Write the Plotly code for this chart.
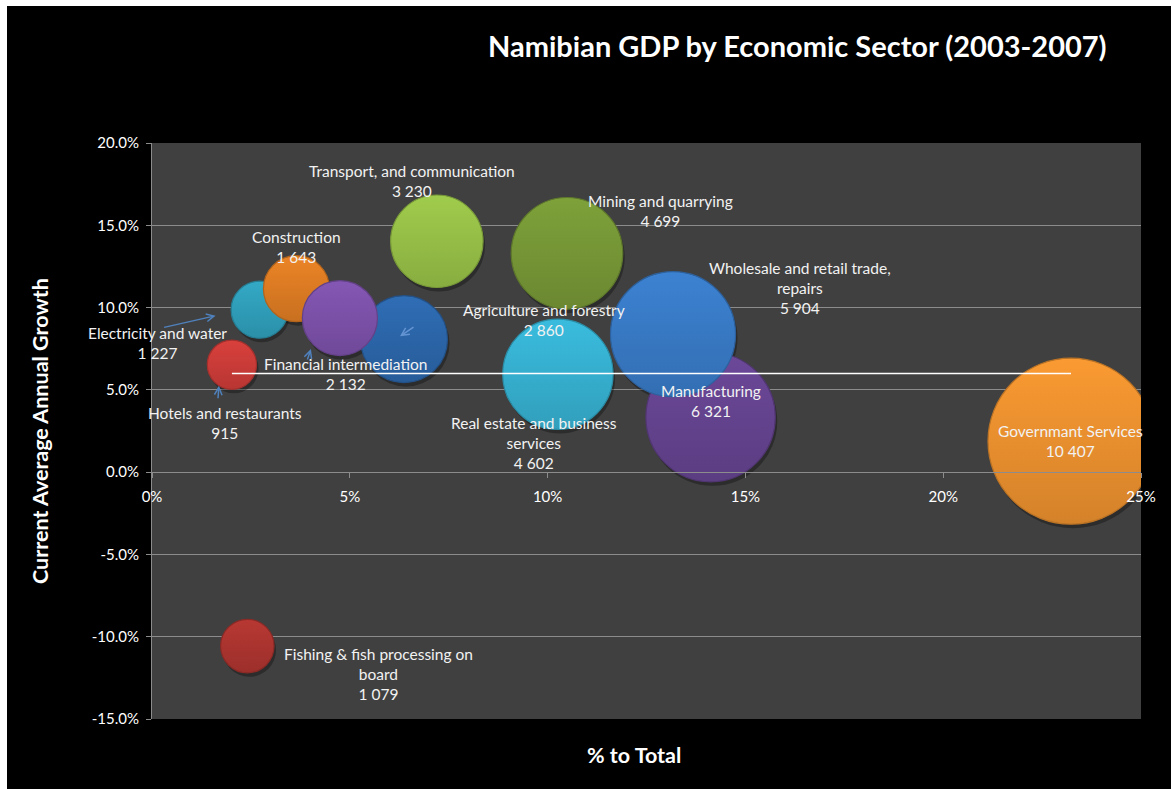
import plotly.graph_objects as go

# ---- data -------------------------------------------------------------
sectors = [
    "Electricity and water", "Construction", "Agriculture and forestry",
    "Financial intermediation", "Hotels and restaurants",
    "Fishing & fish processing on board", "Transport, and communication",
    "Mining and quarrying", "Real estate and business services",
    "Manufacturing", "Wholesale and retail trade, repairs", "Governmant Services",
]
# sector GDP, N$ million (bubble size)
gdp_value = [1227, 1643, 2860, 2132, 915, 1079, 3230, 4699, 4602, 6321, 5904, 10407]
# share of total GDP, %
share_pct = [2.72, 3.65, 6.37, 4.75, 2.02, 2.41, 7.20, 10.49, 10.26, 14.12, 13.17, 23.23]
# current average annual growth, %
growth_pct = [9.87, 11.15, 8.08, 9.36, 6.53, -10.57, 14.03, 13.30, 5.95, 3.34, 8.38, 1.88]

# average growth reference line
avg_line_x = [2.02, 23.23]
avg_line_y = [6.0, 6.0]

x_ticks = [0, 5, 10, 15, 20, 25]
x_tick_labels = ["0%", "5%", "10%", "15%", "20%", "25%"]
y_ticks = [-15, -10, -5, 0, 5, 10, 15, 20]
y_tick_labels = ["-15.0%", "-10.0%", "-5.0%", "0.0%", "5.0%", "10.0%", "15.0%", "20.0%"]

# ---- styling ----------------------------------------------------------
W, H = 1171, 789
PL, PR, PT, PB = 152, 1141, 143, 719
X_RANGE = [0, 25]
Y_RANGE = [-15, 20]

FONT = "Lato, 'Open Sans', sans-serif"
GRID = "#8c8c8c"
PLOT_BG = "#404040"

colors = {
    "Electricity and water": "#33A9C6",
    "Construction": "#EC8426",
    "Agriculture and forestry": "#2F6DB5",
    "Financial intermediation": "#8457B4",
    "Hotels and restaurants": "#D9403C",
    "Fishing & fish processing on board": "#B83833",
    "Transport, and communication": "#A0CC4C",
    "Mining and quarrying": "#7EA13A",
    "Real estate and business services": "#3ABCDE",
    "Manufacturing": "#6C4899",
    "Wholesale and retail trade, repairs": "#3C82D2",
    "Governmant Services": "#FA9A32",
}

label_text = {
    "Electricity and water": "Electricity and water",
    "Construction": "Construction",
    "Agriculture and forestry": "Agriculture and forestry",
    "Financial intermediation": "Financial intermediation",
    "Hotels and restaurants": "Hotels and restaurants",
    "Fishing & fish processing on board": "Fishing & fish processing on<br>board",
    "Transport, and communication": "Transport, and communication",
    "Mining and quarrying": "Mining and quarrying",
    "Real estate and business services": "Real estate and business<br>services",
    "Manufacturing": "Manufacturing",
    "Wholesale and retail trade, repairs": "Wholesale and retail trade,<br>repairs",
    "Governmant Services": "Governmant Services",
}

# label offset from bubble centre, in pixels (x right, y up)
label_shift = {
    "Electricity and water": (-102, -33),
    "Construction": (0, 42),
    "Agriculture and forestry": (140, 19),
    "Financial intermediation": (6, -56),
    "Hotels and restaurants": (-7, -58),
    "Fishing & fish processing on board": (131, -28),
    "Transport, and communication": (-25, 60),
    "Mining and quarrying": (94, 42),
    "Real estate and business services": (-24, -69),
    "Manufacturing": (0, 16),
    "Wholesale and retail trade, repairs": (127, 46),
    "Governmant Services": (0, 0),
}

# leader arrows: sector, head shift (px), tail offset from head (px), colour
arrows = [
    ("Electricity and water", -44, -6, -53, 12, "#4F81BD"),
    ("Hotels and restaurants", -13, -21, -1, 14, "#4F81BD"),
    ("Financial intermediation", -29, -31, -4, 12, "#4F81BD"),
    ("Agriculture and forestry", -4, 3, 15, -10, "rgba(120,165,225,0.75)"),
]


def darken(hex_color, f):
    h = hex_color.lstrip("#")
    r, g, b = (int(h[i:i + 2], 16) for i in (0, 2, 4))
    return "#%02x%02x%02x" % (int(r * f), int(g * f), int(b * f))


def fmt_value(v):
    return f"{v:,}".replace(",", " ")


def px_x(px):
    return (px - PL) / (PR - PL)


def px_y(py):
    return (PB - py) / (PB - PT)


MAX_DIAM = 166
sizeref = 2 * max(gdp_value) / MAX_DIAM ** 2

units_per_px_x = (X_RANGE[1] - X_RANGE[0]) / (PR - PL)
units_per_px_y = (Y_RANGE[1] - Y_RANGE[0]) / (PB - PT)

fig = go.Figure()

# soft drop shadow under the bubbles
fig.add_trace(go.Scatter(
    x=[v + 2 * units_per_px_x for v in share_pct],
    y=[v - 4 * units_per_px_y for v in growth_pct],
    mode="markers",
    marker=dict(size=gdp_value, sizemode="area", sizeref=sizeref,
                color="rgba(0,0,0,0.45)", line=dict(width=0)),
    hoverinfo="skip", showlegend=False,
))

bubble_colors = [colors[s] for s in sectors]
fig.add_trace(go.Scatter(
    x=share_pct, y=growth_pct,
    mode="markers",
    marker=dict(
        size=gdp_value, sizemode="area", sizeref=sizeref,
        color=bubble_colors,
        gradient=dict(type="vertical", color=[darken(c, 0.85) for c in bubble_colors]),
        line=dict(width=1.2, color=[darken(c, 0.75) for c in bubble_colors]),
        opacity=1,
    ),
    text=sectors, customdata=gdp_value,
    hovertemplate="%{text}<br>%{customdata}<extra></extra>",
    showlegend=False,
))

fig.add_trace(go.Scatter(
    x=avg_line_x, y=avg_line_y, mode="lines",
    line=dict(color="white", width=1.5),
    hoverinfo="skip", showlegend=False,
))

annotations = []
for s, xv, yv, v in zip(sectors, share_pct, growth_pct, gdp_value):
    dx, dy = label_shift[s]
    annotations.append(dict(
        x=xv, y=yv, xref="x", yref="y", xshift=dx, yshift=dy,
        text=label_text[s] + "<br>" + fmt_value(v),
        showarrow=False, xanchor="center", yanchor="middle", align="center",
        font=dict(family=FONT, size=15.5, color="#f2f2f2"),
    ))

idx = {s: i for i, s in enumerate(sectors)}
for s, hx, hy, ax, ay, col in arrows:
    i = idx[s]
    annotations.append(dict(
        x=share_pct[i], y=growth_pct[i], xref="x", yref="y",
        xshift=hx, yshift=hy, ax=ax, ay=ay, text="",
        showarrow=True, arrowhead=5, arrowsize=1, arrowwidth=1.5,
        arrowcolor=col, standoff=0,
    ))

# chart title and axis titles
annotations += [
    dict(x=px_x(797), y=px_y(45), xref="paper", yref="paper",
         text="<b>Namibian GDP by Economic Sector (2003-2007)</b>",
         showarrow=False, xanchor="center", yanchor="middle",
         font=dict(family=FONT, size=29, color="white")),
    dict(x=px_x(40), y=0.5, xref="paper", yref="paper",
         text="<b>Current Average Annual Growth</b>", textangle=-90,
         showarrow=False, xanchor="center", yanchor="middle",
         font=dict(family=FONT, size=21.5, color="white")),
    dict(x=px_x(634), y=px_y(755), xref="paper", yref="paper",
         text="<b>% to Total</b>",
         showarrow=False, xanchor="center", yanchor="middle",
         font=dict(family=FONT, size=21.5, color="white")),
]

# thin white frame along the top and left edges of the image
shapes = [
    dict(type="rect", xref="paper", yref="paper", layer="above",
         x0=px_x(0), x1=px_x(W), y0=px_y(0), y1=px_y(6),
         fillcolor="white", line=dict(width=0)),
    dict(type="rect", xref="paper", yref="paper", layer="above",
         x0=px_x(0), x1=px_x(7), y0=px_y(0), y1=px_y(H),
         fillcolor="white", line=dict(width=0)),
]

fig.update_layout(
    width=W, height=H,
    margin=dict(l=PL, r=W - PR, t=PT, b=H - PB, pad=0),
    paper_bgcolor="black", plot_bgcolor=PLOT_BG,
    font=dict(family=FONT, color="white"),
    annotations=annotations, shapes=shapes,
    xaxis=dict(
        range=X_RANGE, tickvals=x_ticks, ticktext=x_tick_labels,
        showgrid=False, zeroline=False,
        showline=True, linecolor=GRID, linewidth=1,
        anchor="free", position=(0 - Y_RANGE[0]) / (Y_RANGE[1] - Y_RANGE[0]),
        ticks="outside", ticklen=5, tickcolor=GRID,
        ticklabelstandoff=6,
        tickfont=dict(family=FONT, size=15, color="white"),
        fixedrange=True,
    ),
    yaxis=dict(
        range=Y_RANGE, tickvals=y_ticks, ticktext=y_tick_labels,
        showgrid=True, gridcolor=GRID, gridwidth=1, zeroline=False,
        showline=True, linecolor=GRID, linewidth=1,
        ticks="outside", ticklen=5, tickcolor=GRID,
        ticklabelstandoff=4,
        tickfont=dict(family=FONT, size=15, color="white"),
        fixedrange=True,
    ),
    showlegend=False,
)

fig.write_html("out.html")
